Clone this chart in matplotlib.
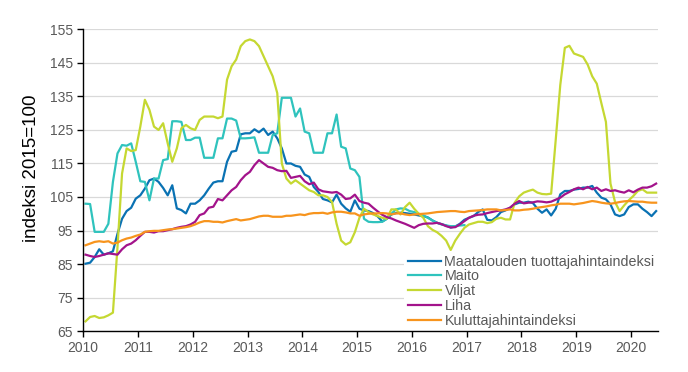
import numpy as np
import matplotlib
matplotlib.use("Agg")
import matplotlib.pyplot as plt

plt.rcParams['font.family'] = ['Liberation Sans', 'DejaVu Sans']

# kuukausittaiset indeksit 2010/01 - 2020/06 (2015=100)
maatalous = [
    85.1, 85.4, 87.1, 89.4, 87.8, 88.2, 88.8, 94.0, 98.5, 100.8, 101.8, 104.5,
    105.5, 107.5, 110.0, 110.5, 109.5, 107.7, 105.5, 108.5, 101.6, 101.1, 100.1, 103.0,
    103.0, 104.0, 105.5, 107.5, 109.3, 109.7, 109.7, 115.5, 118.5, 118.8, 123.7, 124.0,
    124.0, 125.2, 124.3, 125.4, 123.5, 124.5, 122.5, 119.5, 115.0, 115.0, 114.3, 114.0,
    111.7, 111.0, 108.0, 106.5, 104.4, 104.0, 103.4, 105.7, 103.0, 101.6, 100.6, 104.0,
    101.5, 101.0, 100.8, 100.2, 99.2, 97.7, 98.5, 99.8, 100.2, 100.3, 100.2, 100.0,
    99.8, 99.5, 99.3, 98.9, 98.0, 97.3, 96.9, 96.5, 95.9, 96.2, 97.0, 98.2,
    98.8, 99.3, 100.5, 101.3, 98.2, 98.0, 99.0, 100.5, 101.0, 101.8, 102.8, 103.3,
    103.3, 103.6, 103.2, 101.5, 100.3, 101.3, 99.5, 101.5, 105.8, 106.8, 106.8, 107.2,
    107.4, 107.8, 107.8, 108.3, 106.3, 104.8, 104.3, 102.8, 99.8, 99.3, 99.8, 102.0,
    102.8, 102.8, 101.5, 100.5, 99.3, 100.8,
]
maito = [
    103.0, 102.9, 94.6, 94.6, 94.6, 97.0, 109.5, 118.0, 120.5, 120.3, 121.0, 115.5,
    109.7, 109.5, 104.0, 110.5, 110.5, 116.0, 116.3, 127.6, 127.6, 127.4, 122.0, 122.0,
    122.7, 122.7, 116.7, 116.7, 116.7, 122.5, 122.5, 128.4, 128.4, 127.8, 122.5, 122.5,
    122.6, 122.8, 118.2, 118.2, 118.2, 123.5, 124.0, 134.6, 134.6, 134.6, 129.0, 131.4,
    124.5, 124.0, 118.2, 118.2, 118.2, 124.0, 124.0, 129.6, 120.0, 119.5, 113.5, 113.0,
    111.0, 98.5, 97.6, 97.5, 97.5, 97.6, 98.5, 100.0, 101.3, 101.6, 101.5, 100.8,
    100.5, 100.0, 99.5, 98.8, 98.0, 97.3, 96.8, 96.5, 96.3, 96.3, 96.5, 96.6,
] + [np.nan] * 42
viljat = [
    67.9, 69.2, 69.5, 68.9, 69.1, 69.7, 70.5, 90.0, 112.0, 119.5, 118.7, 119.0,
    126.0, 134.0, 131.0, 126.0, 125.0, 127.0, 121.0, 115.5, 119.5, 125.5, 126.5, 125.5,
    125.0, 128.0, 129.0, 129.0, 129.0, 128.5, 129.0, 140.0, 144.0, 146.0, 150.0, 151.5,
    152.0, 151.5, 150.0, 147.0, 144.0, 141.0, 136.0, 115.0, 110.5, 109.0, 110.0, 109.0,
    108.0, 107.0, 106.5, 105.5, 105.5, 105.0, 103.5, 97.0, 92.0, 90.8, 91.5, 94.5,
    98.8, 101.5, 100.5, 99.8, 99.3, 98.8, 98.5, 101.3, 101.3, 99.8, 102.0, 103.3,
    101.5, 100.0, 98.8, 96.3, 95.2, 94.5, 93.4, 92.0, 89.2, 92.0, 94.0, 95.8,
    96.8, 97.2, 97.6, 97.6, 97.2, 97.5, 98.5, 98.8, 98.3, 98.3, 103.3, 105.2,
    106.3, 106.8, 107.2, 106.3, 105.9, 105.8, 106.0, 122.0, 138.4, 149.5, 150.1, 147.8,
    147.3, 146.8, 144.5, 141.0, 138.8, 133.0, 127.4, 109.0, 103.5, 100.8, 102.5, 104.0,
    105.3, 106.8, 107.3, 106.3, 106.3, 106.3,
]
liha = [
    87.8, 87.4, 87.1, 87.4, 87.8, 88.2, 88.0, 87.8, 89.4, 90.6, 91.1, 92.1,
    93.4, 94.6, 94.6, 94.4, 94.8, 94.8, 95.1, 95.4, 95.8, 96.1, 96.3, 96.8,
    97.6, 99.6, 100.1, 101.8, 102.1, 104.4, 104.0, 105.5, 107.0, 108.0, 110.0, 111.5,
    112.5, 114.5, 116.0, 115.0, 114.0, 113.7, 113.0, 112.7, 112.8, 110.7, 111.0, 111.3,
    109.7, 108.8, 109.3, 107.3, 106.7, 106.5, 106.3, 106.5, 105.7, 104.4, 104.6, 105.7,
    103.8, 103.3, 103.0, 101.8, 100.7, 99.7, 99.0, 98.6, 98.0, 97.5, 97.0, 96.4,
    95.8, 96.6, 97.0, 97.1, 97.1, 97.3, 96.9, 96.3, 95.9, 96.0, 96.8, 97.8,
    98.8, 99.4, 99.7, 99.8, 100.2, 100.5, 100.8, 101.0, 101.3, 101.8, 103.0, 103.8,
    103.1, 103.3, 103.4, 103.7, 103.6, 103.4, 103.6, 104.2, 104.8, 105.8, 106.5, 107.3,
    107.8, 107.3, 108.0, 107.3, 107.8, 106.8, 107.3, 106.8, 107.0, 106.6, 106.3, 107.0,
    106.4, 107.2, 107.8, 107.8, 108.2, 109.0,
]
kuluttaja = [
    90.6, 91.1, 91.6, 91.8, 91.6, 91.8, 91.1, 91.4, 92.1, 92.6, 92.9, 93.4,
    93.8, 94.6, 94.8, 94.9, 94.9, 95.1, 95.3, 95.4, 95.6, 95.8, 96.0, 96.3,
    96.8, 97.4, 97.8, 97.8, 97.6, 97.6, 97.4, 97.8, 98.1, 98.4, 98.0, 98.2,
    98.4, 98.8, 99.2, 99.4, 99.4, 99.1, 99.1, 99.1, 99.4, 99.4, 99.6, 99.8,
    99.6, 100.0, 100.2, 100.2, 100.3, 100.0, 100.4, 100.6, 100.6, 100.4, 100.1, 100.1,
    99.4, 99.8, 100.0, 100.1, 100.1, 100.2, 100.1, 99.8, 100.1, 100.1, 99.8, 99.6,
    99.8, 99.9, 100.0, 100.1, 100.3, 100.5, 100.6, 100.7, 100.8, 100.8, 100.6, 100.5,
    100.8, 100.9, 101.0, 101.1, 101.3, 101.3, 101.3, 101.0, 101.1, 101.3, 101.0, 101.0,
    101.2, 101.3, 101.5, 101.8, 102.0, 102.2, 102.5, 102.7, 103.0, 103.0, 103.0, 102.8,
    103.0, 103.2, 103.5, 103.8, 103.6, 103.3, 103.1, 103.0, 103.2, 103.5, 103.7, 103.8,
    103.7, 103.6, 103.6, 103.4, 103.3, 103.3,
]

labels = ["Maatalouden tuottajahintaindeksi", "Maito", "Viljat", "Liha", "Kuluttajahintaindeksi"]
colors = ["#0a72b3", "#2fc3bd", "#c5d832", "#a3138b", "#f7941d"]

n = len(maatalous)
x = 2010 + (np.arange(n) + 0.5) / 12

fig = plt.figure(figsize=(6.88, 3.72), dpi=100)
ax = fig.add_axes([0.121, 0.110, 0.836, 0.811])

for serie, lab, col in zip([maatalous, maito, viljat, liha, kuluttaja], labels, colors):
    ax.plot(x, serie, color=col, lw=1.6, label=lab, zorder=3)

ax.set_xlim(2010, 2010 + n / 12)
ax.set_ylim(65, 155)
ax.set_yticks(range(65, 156, 10))
ax.set_xticks(range(2010, 2021))
ax.grid(axis='y', color='#d9d9d9', lw=0.9, zorder=0)
ax.set_axisbelow(True)
for s in ['top', 'right']:
    ax.spines[s].set_visible(False)
for s in ['left', 'bottom']:
    ax.spines[s].set_color('black')
    ax.spines[s].set_linewidth(1.0)
    ax.spines[s].set_zorder(4)
ax.tick_params(axis='both', labelsize=10, labelcolor='#595959', color='black',
               length=4, width=1)
ax.set_ylabel("indeksi 2015=100", fontsize=13.5, color='black')
ax.yaxis.set_label_coords(-0.076, 0.54)

leg = ax.legend(loc='lower right', bbox_to_anchor=(1.012, -0.024), fontsize=10.3,
                frameon=True, facecolor='white', edgecolor='none', framealpha=1,
                handlelength=2.3, handletextpad=0.25, labelspacing=0.05,
                borderpad=0.25, labelcolor='#595959', fancybox=False)
leg.set_zorder(3.5)

fig.savefig("out.png", dpi=100)
